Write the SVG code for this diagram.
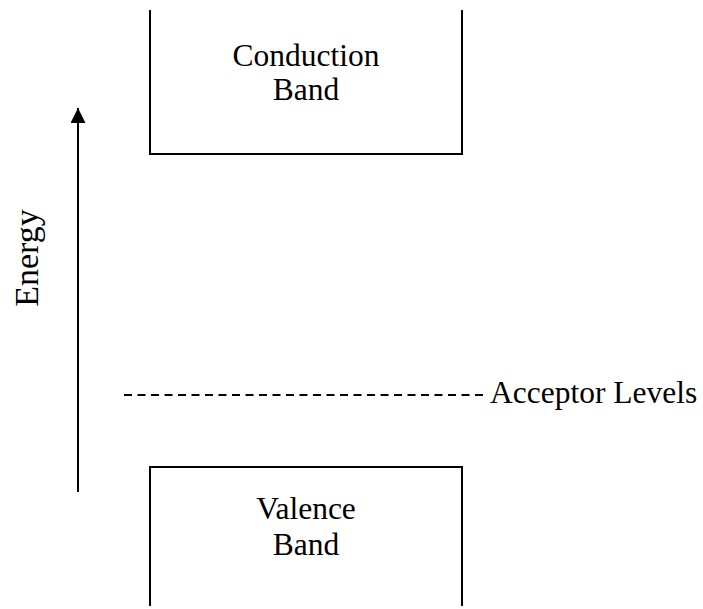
<svg xmlns="http://www.w3.org/2000/svg" width="703" height="609" viewBox="0 0 703 609">
<style>
.band{fill:none;stroke:#000;stroke-width:2}
.lbl{font-family:"Liberation Serif","Times New Roman",serif;font-size:31.5px;fill:#000;text-anchor:middle}
.conn{fill:none;stroke:#000;stroke-width:2}
</style>
<defs>
<marker id="ah" viewBox="0 0 15 15" refX="15" refY="7.5" markerWidth="15" markerHeight="15" markerUnits="userSpaceOnUse" orient="auto">
<path d="M0,0 L15,7.5 L0,15 Z" fill="#000"/>
</marker>
</defs>
<rect width="703" height="609" fill="#fff"/>
<g id="conduction-band">
<path class="band" d="M150,10 V154 H462 V10"/>
<text class="lbl" x="306" y="66">Conduction</text>
<text class="lbl" x="306" y="100">Band</text>
</g>
<g id="valence-band">
<path class="band" d="M150,606 V467 H462 V606"/>
<text class="lbl" x="306" y="519">Valence</text>
<text class="lbl" x="306" y="555">Band</text>
</g>
<g id="acceptor-levels">
<line x1="124" y1="395" x2="487" y2="395" stroke="#000" stroke-width="2" stroke-dasharray="8 5.5"/>
<text class="lbl" x="490" y="403" style="text-anchor:start">Acceptor Levels</text>
</g>
<g id="energy">
<text class="lbl" style="font-size:34px" transform="translate(38,258) rotate(-90)" x="0" y="0">Energy</text>
</g>
<g id="connectors">
<path d="M78,492 V108" class="conn" marker-end="url(#ah)"/>
</g>
</svg>
